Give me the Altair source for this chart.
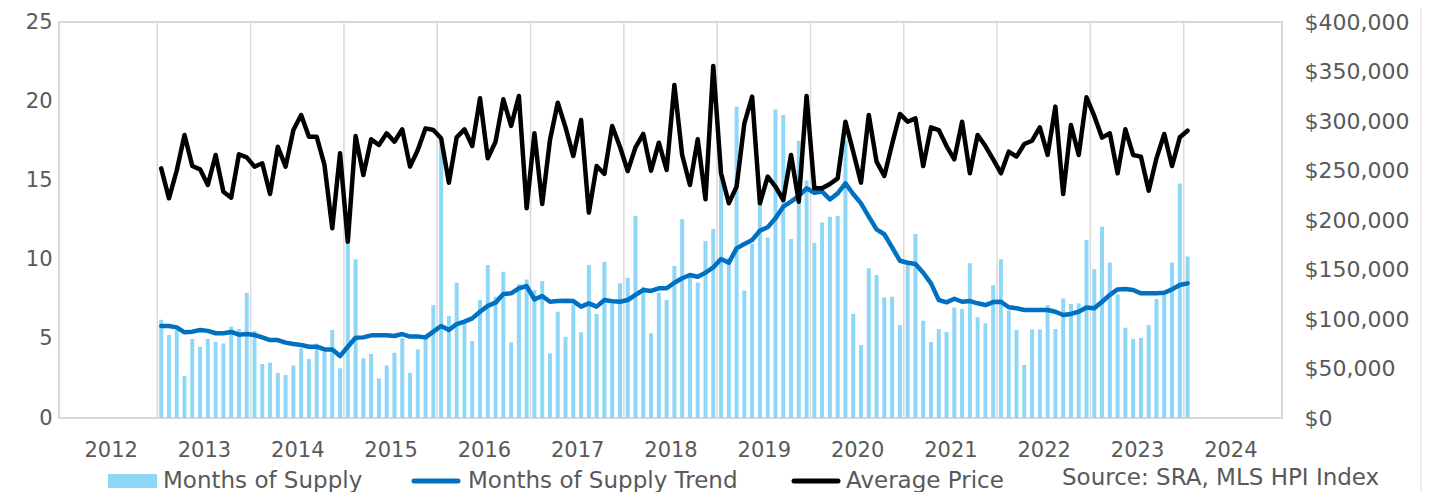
import altair as alt
import pandas as pd

# ---------------- data ----------------
year_labels = list(range(2012, 2025))

months_of_supply = [
    6.2, 5.24, 5.56, 2.65, 4.99, 4.5, 4.99, 4.8, 4.71, 5.77,
    5.62, 7.89, 5.49, 3.41, 3.49, 2.84, 2.71, 3.32, 4.4, 3.72,
    4.71, 4.19, 5.56, 3.14, 11.1, 10.02, 3.77, 4.04, 2.5, 3.32,
    4.12, 5.03, 2.86, 4.33, 5.13, 7.13, 17.34, 6.44, 8.54, 5.98,
    4.86, 7.45, 9.66, 7.66, 9.24, 4.78, 8.44, 8.75, 8.08, 8.65,
    4.08, 6.71, 5.13, 7.18, 5.41, 9.66, 6.57, 9.87, 7.2, 8.5,
    8.86, 12.75, 8.29, 5.35, 7.91, 7.45, 9.6, 12.56, 9.0, 8.56,
    11.17, 11.93, 15.5, 10.1, 19.65, 8.04, 11.0, 14.0, 11.4, 19.48,
    19.13, 11.3, 17.51, 15.0, 11.07, 12.35, 12.71, 12.75, 17.55, 6.57,
    4.61, 9.45, 9.03, 7.62, 7.66, 5.87, 9.9, 11.62, 6.14, 4.8,
    5.62, 5.43, 6.97, 6.88, 9.77, 6.36, 5.98, 8.38, 10.02, 6.78,
    5.56, 3.35, 5.6, 5.6, 7.13, 5.62, 7.55, 7.2, 7.24, 11.24,
    9.39, 12.08, 9.81, 7.8, 5.7, 4.99, 5.05, 5.87, 7.51, 7.8,
    9.81, 14.81, 10.19,
]

supply_trend = [
    5.81, 5.81, 5.72, 5.41, 5.45, 5.56, 5.5, 5.35, 5.35, 5.43,
    5.26, 5.3, 5.24, 5.09, 4.92, 4.92, 4.76, 4.67, 4.61, 4.5,
    4.5, 4.33, 4.33, 3.91, 4.5, 5.07, 5.09, 5.22, 5.22, 5.22,
    5.18, 5.3, 5.14, 5.14, 5.09, 5.45, 5.81, 5.56, 5.93, 6.08,
    6.29, 6.71, 7.08, 7.28, 7.83, 7.87, 8.19, 8.33, 7.49, 7.7,
    7.34, 7.38, 7.4, 7.38, 7.03, 7.24, 7.03, 7.45, 7.37, 7.34,
    7.45, 7.77, 8.08, 8.02, 8.19, 8.19, 8.54, 8.82, 9.03, 8.92,
    9.17, 9.51, 10.04, 9.8, 10.71, 10.98, 11.24, 11.83, 12.04, 12.61,
    13.34, 13.66, 14.02, 14.5, 14.22, 14.29, 13.8, 14.18, 14.81, 14.14,
    13.55, 12.71, 11.91, 11.6, 10.77, 9.93, 9.8, 9.72, 9.17, 8.5,
    7.45, 7.3, 7.53, 7.34, 7.38, 7.24, 7.13, 7.32, 7.34, 6.99,
    6.93, 6.82, 6.82, 6.82, 6.82, 6.71, 6.5, 6.57, 6.71, 6.97,
    6.93, 7.34, 7.77, 8.12, 8.14, 8.08, 7.87, 7.87, 7.87, 7.91,
    8.12, 8.4, 8.5,
]

average_price = [
    252200, 221900, 250000, 285900, 254500, 251200, 235400, 265700, 228600, 222500,
    266400, 263300, 253900, 257300, 226300, 274000, 253900, 290900, 306000, 284000,
    284000, 255600, 191600, 267400, 178100, 284800, 245500, 281500, 275800, 287600,
    279100, 291600, 253900, 270700, 292600, 290900, 282500, 237700, 283500, 291600,
    274700, 322900, 262300, 279100, 321900, 295000, 325300, 211800, 287600, 216200,
    280800, 318500, 293600, 264600, 301000, 207400, 254500, 246500, 295000, 274000,
    249500, 273400, 286900, 249800, 278100, 250500, 336400, 265700, 235400, 281500,
    220900, 355600, 247200, 216900, 233700, 297700, 324600, 216900, 243800, 233700,
    220200, 265700, 218500, 325300, 232000, 232000, 236400, 242100, 299300, 269000,
    237700, 306100, 258900, 244400, 276800, 307100, 299300, 302700, 254500, 293600,
    290900, 274700, 261300, 299300, 247200, 285900, 274700, 261300, 247200, 269000,
    264000, 276800, 280100, 293600, 265700, 314500, 226300, 296000, 265700, 323900,
    305100, 283200, 287600, 247200, 291600, 265700, 264000, 229600, 262300, 286900,
    254500, 283500, 290200,
]

# months counted from Jan 2012; series begins one year into the axis
first_month = 12
n = len(months_of_supply)
df = pd.DataFrame({
    "m": [first_month + i + 0.5 for i in range(n)],
    "supply": months_of_supply,
    "trend": supply_trend,
    "price": average_price,
})
grid_df = pd.DataFrame({"m": [12 * k for k in range(1, len(year_labels))]})

FONT = "DejaVu Sans"
GREY = "#595959"
BAR = "#8FD7F7"
TREND = "#0070C0"

xscale = alt.Scale(domain=[0, 12 * len(year_labels)], nice=False, zero=False)
x_axis = alt.Axis(
    values=[12 * k + 6 for k in range(len(year_labels))],
    labelExpr="2012 + floor(datum.value / 12)",
    grid=False, ticks=False, domain=False, title=None,
    labelPadding=21, labelFontSize=21, orient="bottom",
)
X = alt.X("m:Q", scale=xscale, axis=x_axis)

grid = alt.Chart(grid_df).mark_rule(color="#D9D9D9", strokeWidth=1.5).encode(x=X)

left_scale = alt.Scale(domain=[0, 25], nice=False)
left_axis = alt.Axis(values=[0, 5, 10, 15, 20, 25], orient="left", grid=False,
                     ticks=False, domain=False, title=None, labelPadding=7,
                     labelFontSize=21)

bars = alt.Chart(df).mark_bar(size=4, color=BAR).encode(
    x=X,
    y=alt.Y("supply:Q", scale=left_scale, axis=left_axis),
)
trend_line = alt.Chart(df).mark_line(color=TREND, strokeWidth=4.5,
                                     strokeJoin="round", strokeCap="round").encode(
    x=X,
    y=alt.Y("trend:Q", scale=left_scale, axis=left_axis),
)
left_group = alt.layer(bars, trend_line)

right_scale = alt.Scale(domain=[0, 400000], nice=False)
right_axis = alt.Axis(values=list(range(0, 400001, 50000)), orient="right",
                      format="$,.0f", grid=False, ticks=False, domain=False,
                      title=None, labelPadding=22, labelFontSize=22)
price_line = alt.Chart(df).mark_line(color="#000000", strokeWidth=4.5,
                                     strokeJoin="round", strokeCap="round").encode(
    x=X,
    y=alt.Y("price:Q", scale=right_scale, axis=right_axis),
)

# ---------------- legend and source note ----------------
one = pd.DataFrame({"k": [0]})
legend_font = dict(font=FONT, fontSize=23, color=GREY, align="left", baseline="middle")

sw_bar = alt.Chart(one).mark_rect(color=BAR).encode(
    x=alt.value(49), x2=alt.value(98), y=alt.value(452), y2=alt.value(466))
tx_bar = alt.Chart(one).mark_text(**legend_font).encode(
    x=alt.value(104), y=alt.value(459), text=alt.value("Months of Supply"))
sw_trend = alt.Chart(one).mark_rule(color=TREND, strokeWidth=5, strokeCap="round").encode(
    x=alt.value(355), x2=alt.value(399), y=alt.value(459))
tx_trend = alt.Chart(one).mark_text(**legend_font).encode(
    x=alt.value(409), y=alt.value(459), text=alt.value("Months of Supply Trend"))
sw_price = alt.Chart(one).mark_rule(color="#000000", strokeWidth=5, strokeCap="round").encode(
    x=alt.value(735), x2=alt.value(779), y=alt.value(459))
tx_price = alt.Chart(one).mark_text(**legend_font).encode(
    x=alt.value(787), y=alt.value(459), text=alt.value("Average Price"))
source = alt.Chart(one).mark_text(font=FONT, fontSize=23, color=GREY, align="left",
                                  baseline="middle").encode(
    x=alt.value(1003), y=alt.value(456), text=alt.value("Source: SRA, MLS HPI Index"))
edge = alt.Chart(one).mark_rule(color="#DDDDDD", strokeWidth=1).encode(
    x=alt.value(1362), y=alt.value(-22), y2=alt.value(470))

chart = alt.layer(
    grid, left_group, price_line,
    sw_bar, tx_bar, sw_trend, tx_trend, sw_price, tx_price, source, edge,
).resolve_scale(y="independent").properties(
    width=1223, height=396,
    autosize=alt.AutoSizeParams(type="none"),
    padding={"left": 51, "top": 14, "right": 140, "bottom": 74},
).configure_view(
    stroke="#CCCCCC", strokeWidth=1.5
).configure_axis(
    labelFont=FONT, labelColor=GREY
)

chart.save("out.html", embed_options={"renderer": "svg", "actions": False})
